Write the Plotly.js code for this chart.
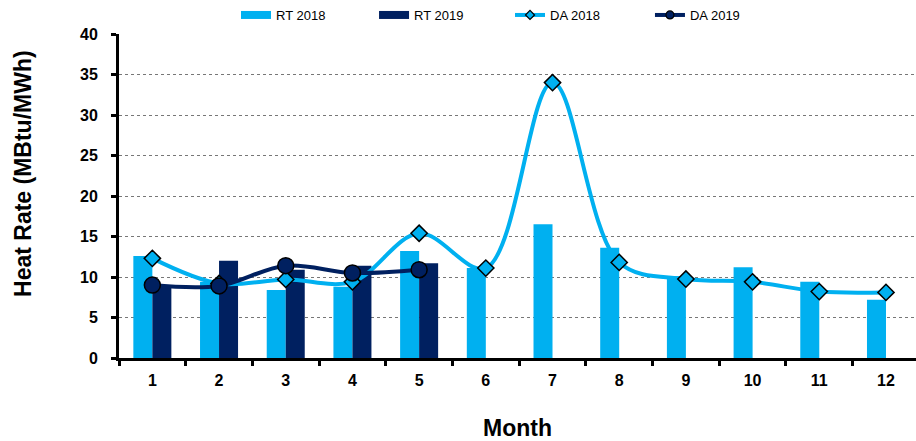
<!DOCTYPE html>
<html>
<head>
<meta charset="utf-8">
<script src="https://cdn.plot.ly/plotly-3.0.1.min.js"></script>
<style>html,body{margin:0;padding:0;background:#fff;}#chart{width:916px;height:441px;}</style>
</head>
<body>
<div id="chart"></div>
<script>
const months = ['1','2','3','4','5','6','7','8','9','10','11','12'];
const months2019 = ['1','2','3','4','5'];
const rt2018 = [12.6, 9.4, 8.4, 8.8, 13.2, 11.1, 16.5, 13.6, 10.1, 11.2, 9.4, 7.2];
const rt2019 = [8.8, 12.0, 10.9, 11.4, 11.7];
const da2018 = [12.3, 9.2, 9.7, 9.4, 15.4, 11.1, 34.0, 11.8, 9.75, 9.4, 8.2, 8.1];
const da2019 = [9.0, 8.9, 11.4, 10.5, 10.9];
const yTicks = [0,5,10,15,20,25,30,35,40];
const seriesNames = ['RT 2018','RT 2019','DA 2018','DA 2019'];

const light = '#00B0F0';
const dark = '#002060';
const FONT = 'Arial, Liberation Sans, sans-serif';

const traces = [
  {type:'bar', name:seriesNames[0], x:months, y:rt2018, marker:{color:light}, offsetgroup:'a', showlegend:false},
  {type:'bar', name:seriesNames[1], x:months2019, y:rt2019, marker:{color:dark}, offsetgroup:'b', showlegend:false},
  {type:'scatter', mode:'lines+markers', name:seriesNames[2], x:months, y:da2018, showlegend:false,
   line:{color:light, width:4, shape:'spline', smoothing:1},
   marker:{symbol:'diamond', size:12.5, color:light, line:{color:'#000', width:1.5}}},
  {type:'scatter', mode:'lines+markers', name:seriesNames[3], x:months2019, y:da2019, showlegend:false,
   line:{color:dark, width:4, shape:'spline', smoothing:1},
   marker:{symbol:'circle', size:16, color:dark, line:{color:'#000', width:1.5}}},
  // legend entries (no data drawn)
  {type:'scatter', mode:'lines', name:seriesNames[0], x:[null], y:[null], legend:'legend',
   line:{color:light, width:8}},
  {type:'scatter', mode:'lines', name:seriesNames[1], x:[null], y:[null], legend:'legend2',
   line:{color:dark, width:8}},
  {type:'scatter', mode:'lines+markers', name:seriesNames[2], x:[null], y:[null], legend:'legend3',
   line:{color:light, width:4}, marker:{symbol:'diamond', size:7, color:light, line:{color:'#000', width:1.2}}},
  {type:'scatter', mode:'lines+markers', name:seriesNames[3], x:[null], y:[null], legend:'legend4',
   line:{color:dark, width:4}, marker:{symbol:'circle', size:8, color:dark, line:{color:'#000', width:1.2}}}
];

function leg(x){
  return {orientation:'h', x:x, xanchor:'left', y:1.0586, yanchor:'middle',
    bgcolor:'rgba(0,0,0,0)', font:{size:13, family:FONT, color:'#000'}};
}

const layout = {
  width:916, height:441,
  margin:{l:119, r:0, t:34, b:83},
  paper_bgcolor:'#fff', plot_bgcolor:'#fff',
  font:{family:FONT, color:'#000'},
  barmode:'group', bargap:0.43, bargroupgap:0,
  showlegend:true,
  legend:leg(0.1468), legend2:leg(0.3200), legend3:leg(0.4906), legend4:leg(0.6662),
  xaxis:{type:'category', categoryorder:'array', categoryarray:months, range:[-0.5, 11.45],
    showline:true, linecolor:'#000', linewidth:3,
    ticks:'outside', tickson:'boundaries', ticklen:5, tickwidth:3, tickcolor:'#000',
    ticklabelstandoff:6,
    tickfont:{size:16, family:FONT, weight:'bold'},
    showgrid:false, zeroline:false,
    title:{text:'<b>Month</b>', font:{size:23}, standoff:34}},
  yaxis:{range:[0,40], tickvals:yTicks, ticktext:yTicks.map(String),
    showline:true, linecolor:'#000', linewidth:3,
    ticks:'outside', ticklen:5, tickwidth:3, tickcolor:'#000',
    ticklabelstandoff:10,
    tickfont:{size:16, family:FONT, weight:'bold'},
    showgrid:true, gridcolor:'#777', gridwidth:1, griddash:'dot', zeroline:false},
  annotations:[{text:'<b>Heat Rate (MBtu/MWh)</b>', textangle:-90, showarrow:false,
    xref:'paper', yref:'paper', x:-0.1205, y:0.571, xanchor:'center', yanchor:'middle',
    font:{size:23, family:FONT, color:'#000'}}]
};

Plotly.newPlot('chart', traces, layout, {displayModeBar:false, staticPlot:true});
</script>
</body>
</html>
